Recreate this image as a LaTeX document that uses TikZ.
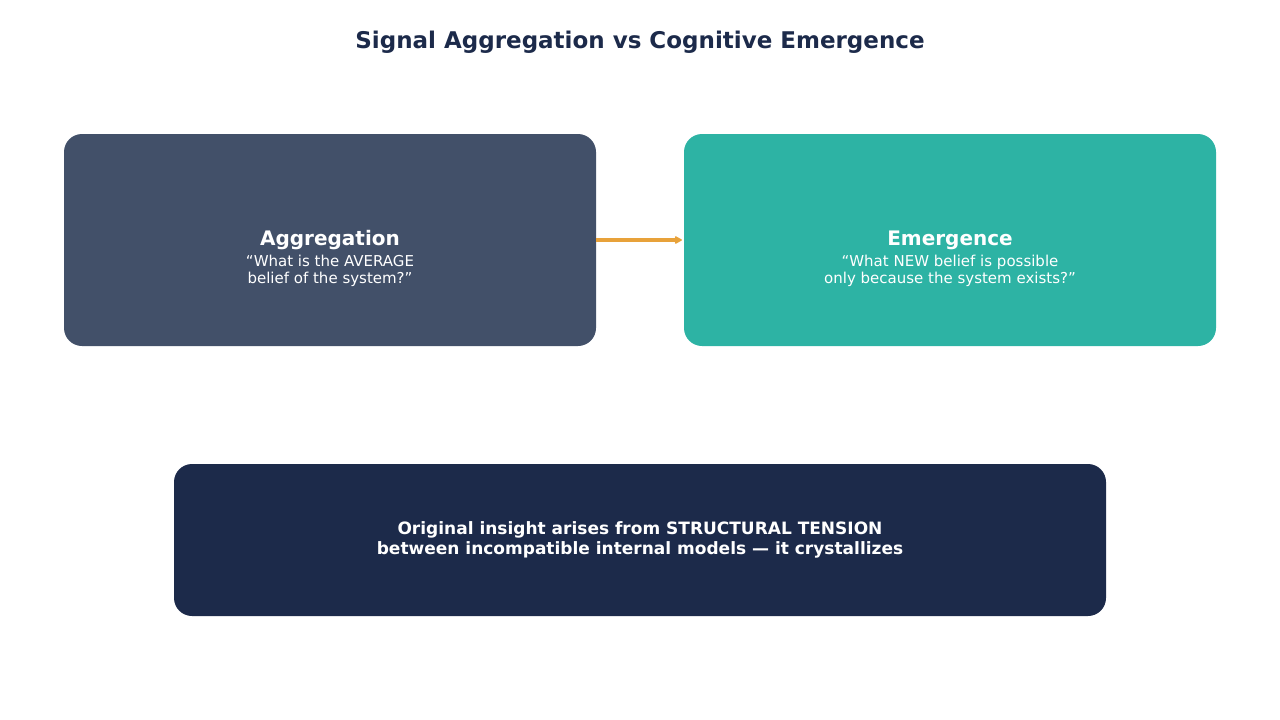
\documentclass[tikz,border=0pt]{standalone}
\usepackage{fontspec}
\setmainfont{DejaVu Sans}
\usetikzlibrary{arrows.meta}
\definecolor{titlec}{HTML}{1C2A4A}
\definecolor{aggc}{HTML}{425069}
\definecolor{emc}{HTML}{2DB3A4}
\definecolor{botc}{HTML}{1C2A4A}
\definecolor{arrc}{HTML}{E8A23A}
\begin{document}
\begin{tikzpicture}[x=1pt,y=-1pt,
  box/.style={rounded corners=18pt,inner sep=0pt,text=white,align=center},
  head/.style={font=\fontsize{20}{24}\selectfont\bfseries},
  sub/.style={font=\fontsize{15}{17}\selectfont}]
\useasboundingbox (0,0) rectangle (1280,720);
\node[text=titlec,font=\fontsize{23}{28}\selectfont\bfseries] (title) at (640,42) {Signal Aggregation vs Cognitive Emergence};
\node[box,fill=aggc,minimum width=532pt,minimum height=212pt] (agg) at (330,240) {};
\node[box,fill=emc,minimum width=532pt,minimum height=212pt] (em) at (950,240) {};
\node[box,fill=botc,minimum width=932pt,minimum height=152pt] (bot) at (640,540) {};
\node[text=white,head] (aggt) at (330,240) {Aggregation};
\node[text=white,sub,align=center,anchor=north] (aggs) at (330,252) {“What is the AVERAGE\\belief of the system?”};
\node[text=white,head] (emt) at (950,240) {Emergence};
\node[text=white,sub,align=center,anchor=north] (ems) at (950,252) {“What NEW belief is possible\\only because the system exists?”};
\node[text=white,align=center,font=\fontsize{17}{20}\selectfont\bfseries] (bott) at (640,540) {Original insight arises from STRUCTURAL TENSION\\between incompatible internal models — it crystallizes};
\draw[arrc,line width=3.5pt,-{Stealth[length=9pt,width=10pt,round]}] (agg.east) -- ([xshift=-2pt]em.west);
\end{tikzpicture}
\end{document}
